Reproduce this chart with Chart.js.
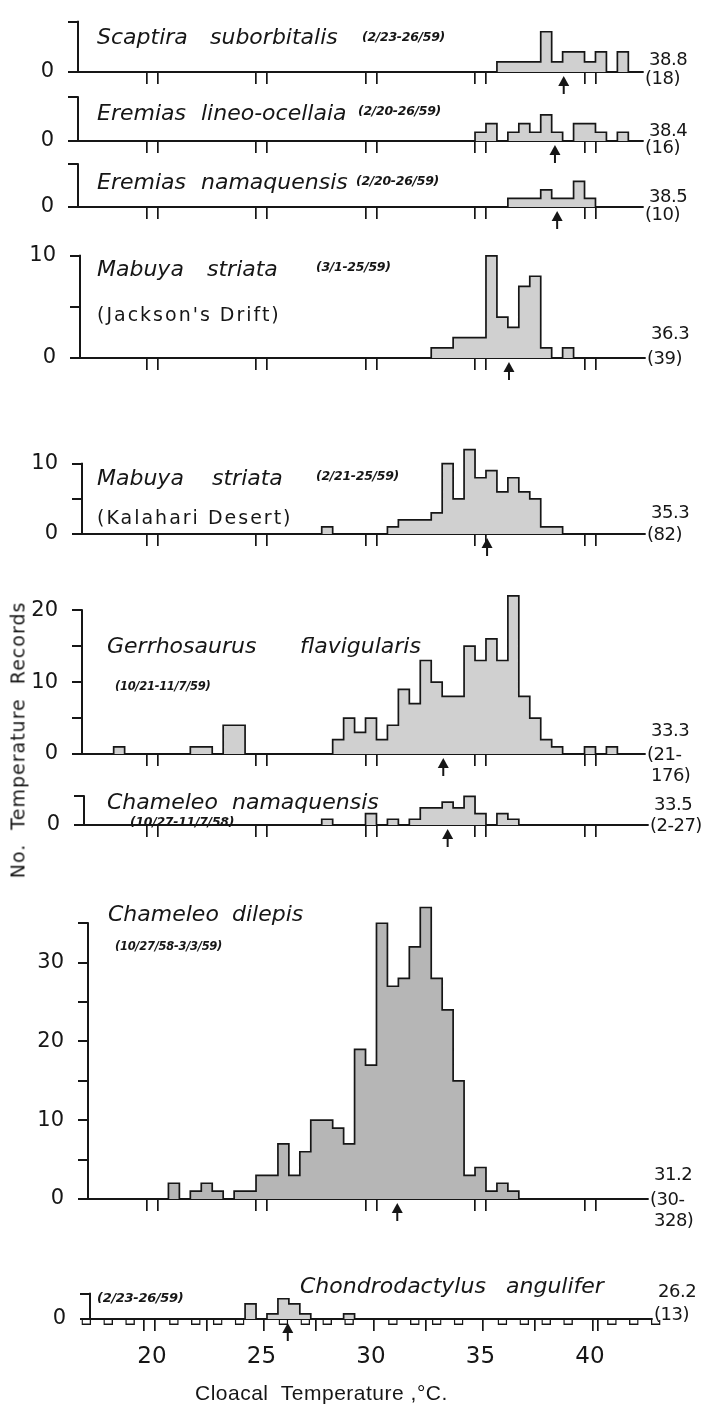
<!DOCTYPE html>
<html><head><meta charset="utf-8">
<script src="https://cdn.jsdelivr.net/npm/chart.js@4.4.1/dist/chart.umd.min.js"></script>
<style>
html,body{margin:0;padding:0;background:#fff;}
body{width:711px;height:1406px;position:relative;overflow:hidden;font-family:"DejaVu Sans",sans-serif;color:#161616;}
canvas{position:absolute;left:0;}
.t{position:absolute;white-space:pre;line-height:1;z-index:5;transform:translateY(-50%);}
.sp{font-style:italic;font-size:22px;}
.dt{font-style:italic;font-size:12.5px;font-weight:bold;letter-spacing:-0.3px;}
.sub{font-size:19px;letter-spacing:2px;}
.rl{font-size:18px;letter-spacing:-0.5px;}
</style></head><body>
<script>
// ---------------- DATA ----------------
const binWidth = 0.5;                       // deg C per histogram bin
const tickCenters = [20, 25, 30, 35, 40];   // x tick labels
const scaptiraStart = 36.0;
const scaptiraCounts = [1,1,1,1,4,1,2,2,1,2,0,2];
const lineoStart = 35.0;
const lineoCounts = [1,2,0,1,2,1,3,1,0,2,2,1,0,1];
const eremNamaStart = 36.5;
const eremNamaCounts = [1,1,1,2,1,1,3,1];
const mabuyaJDStart = 33.0;
const mabuyaJDCounts = [1,1,2,2,2,10,4,3,7,8,1,0,1];
const mabuyaKDStart = 28.0;
const mabuyaKDCounts = [1,0,0,0,0,0,1,2,2,2,3,10,5,12,8,9,6,8,6,5,1,1];
const gerrhoStart = 18.5;
const gerrhoCounts = [1,0,0,0,0,0,0,1,1,0,4,4,0,0,0,0,0,0,0,0,2,5,3,5,2,4,9,7,13,10,8,8,15,13,16,13,22,8,5,2,1,0,0,1,0,1];
const chamNamaStart = 28.0;
const chamNamaCounts = [1,0,0,0,2,0,1,0,1,3,3,4,3,5,2,0,2,1];
const dilepisStart = 21.0;
const dilepisCounts = [2,0,1,2,1,0,1,1,3,3,7,3,6,10,10,9,7,19,17,35,27,28,32,37,28,24,15,3,4,1,2,1];
const chondroStart = 24.5;
const chondroCounts = [3,0,1,4,3,1,0,0,0,1];
const chondroEmptyBins = [17,18,19,21,22,23,24,26,27,28,29,31,32,33,34,36,37,38,39,41,42,43];
const panelMeans = [38.8, 38.4, 38.5, 36.3, 35.3, 33.3, 33.5, 31.2, 26.2];
const panelSizes = [['(18)'],['(16)'],['(10)'],['(39)'],['(82)'],['(21-','176)'],['(2-27)'],['(30-','328)'],['(13)']];
const yTickSets = [[0,5],[0,5],[0,5],[0,5,10],[0,5,10],[0,5,10,15,20],[0,5],[0,5,10,15,20,25,30,35],[0,5]];
const yLabelSets = [[0],[0],[0],[0,10],[0,10],[0,10,20],[0],[0,10,20,30],[0]];

// ---------------- LAYOUT ----------------
const X20 = 152, X40 = 590;
const PX = (X40 - X20) / 20;
const INK = '#161616';
const layout = [
  {axisX:78, rightX:643, top:11,   base:72,   meanY:59,   nY:78},
  {axisX:78, rightX:643, top:87,   base:141,  meanY:130,  nY:147},
  {axisX:78, rightX:643, top:154,  base:207,  meanY:196,  nY:214},
  {axisX:80, rightX:645, top:244,  base:358,  meanY:333,  nY:358},
  {axisX:82, rightX:645, top:454,  base:534,  meanY:512,  nY:534},
  {axisX:82, rightX:645, top:599,  base:754,  meanY:730,  nY:754},
  {axisX:84, rightX:648, top:786,  base:825,  meanY:804,  nY:825},
  {axisX:88, rightX:648, top:912,  base:1199, meanY:1174, nY:1199},
  {axisX:90, rightX:652, top:1283, base:1319, meanY:1291, nY:1314}
];

function histPoints(start, counts) {
  const e0 = start - binWidth / 2;
  const pts = [{x: e0, y: 0}];
  counts.forEach((c, i) => pts.push({x: e0 + i * binWidth, y: c}));
  pts.push({x: e0 + counts.length * binWidth, y: 0});
  return pts;
}
const xTickValues = tickCenters.flatMap(t => [t - 0.25, t, t + 0.25]);
const isCenter = v => tickCenters.includes(v);

const decorPlugin = {
  id: 'decor',
  afterDraw(chart, args, opts) {
    const ctx = chart.ctx, xs = chart.scales.x, ys = chart.scales.y;
    const y0 = ys.getPixelForValue(0);
    const left = chart.chartArea.left;
    ctx.save();
    ctx.strokeStyle = INK; ctx.fillStyle = INK; ctx.lineWidth = 2;
    ctx.beginPath(); ctx.moveTo(left, y0 + 1); ctx.lineTo(left, ys.getPixelForValue(opts.bracket) - 1); ctx.stroke();
    const ax = xs.getPixelForValue(opts.mean);
    ctx.beginPath(); ctx.moveTo(ax, y0 + 11); ctx.lineTo(ax, y0 + 22); ctx.stroke();
    ctx.beginPath(); ctx.moveTo(ax, y0 + 4); ctx.lineTo(ax - 5.5, y0 + 14); ctx.lineTo(ax + 5.5, y0 + 14); ctx.closePath(); ctx.fill();
    ctx.restore();
  }
};

function makePanel(i, start, counts, fillColor, extra) {
  const L = layout[i];
  const ticksY = yTickSets[i];
  const bracket = ticksY[ticksY.length - 1];
  const peak = Math.max(...counts);
  const yMax = Math.max(bracket, peak) + 1;
  const unitPx = (L.base - L.top) / bracket;
  const padTop = 14;
  const xAxisH = (i === 8) ? 64 : 30;
  const canvasTop = Math.round(L.base - yMax * unitPx - padTop);
  const h = L.base - canvasTop + xAxisH;
  const cv = document.createElement('canvas');
  cv.style.top = canvasTop + 'px';
  cv.width = 711; cv.height = h;
  cv.style.width = '711px'; cv.style.height = h + 'px';
  document.body.appendChild(cv);
  const datasets = [{
    type: 'line', data: histPoints(start, counts), stepped: 'before', fill: 'origin',
    backgroundColor: fillColor, borderColor: INK, borderWidth: 1.7, pointRadius: 0,
    tension: 0, clip: false, order: 0, borderJoinStyle: 'miter'
  }];
  if (extra) datasets.push(extra);
  new Chart(cv, {
    type: 'line',
    data: {datasets},
    options: {
      responsive: false, animation: false, events: [],
      layout: {padding: {left: 0, right: 711 - L.rightX, top: padTop, bottom: 0}},
      plugins: {legend: {display: false}, tooltip: {enabled: false}, decor: {mean: panelMeans[i], bracket}},
      scales: {
        x: {
          type: 'linear', offset: false,
          min: 20 + (L.axisX - X20) / PX, max: 20 + (L.rightX - X20) / PX,
          afterBuildTicks: s => { s.ticks = xTickValues.map(v => ({value: v})); },
          afterFit: s => { s.height = xAxisH; },
          grid: {drawOnChartArea: false, drawTicks: true, tickLength: 12, lineWidth: 1.7,
                 color: c => (c.tick && isCenter(c.tick.value)) ? 'rgba(0,0,0,0)' : INK},
          border: {display: true, color: INK, width: 2},
          ticks: {autoSkip: false, maxRotation: 0, padding: 12, color: INK,
                  font: {family: 'DejaVu Sans', size: 23},
                  callback: v => (i === 8 && isCenter(v)) ? String(v) : ''}
        },
        y: {
          type: 'linear', min: 0, max: yMax,
          afterBuildTicks: s => { s.ticks = ticksY.map(v => ({value: v})); },
          afterFit: s => { s.width = L.axisX; },
          grid: {drawOnChartArea: false, drawTicks: true, tickLength: 10, lineWidth: 2, color: INK},
          border: {display: false},
          ticks: {autoSkip: false, padding: 14, color: INK, font: {family: 'DejaVu Sans', size: 21},
                  callback: v => yLabelSets[i].includes(v) ? String(v) : ''}
        }
      }
    },
    plugins: [decorPlugin]
  });
  // right-hand labels: mean and sample size
  const m = document.createElement('div');
  m.className = 't rl'; m.style.left = (L.rightX + 6) + 'px'; m.style.top = L.meanY + 'px';
  m.textContent = panelMeans[i].toFixed(1);
  document.body.appendChild(m);
  panelSizes[i].forEach((s, k) => {
    const d = document.createElement('div');
    d.className = 't rl'; d.style.left = (L.rightX + (k === 0 ? 2 : 6)) + 'px';
    d.style.top = (L.nY + k * 21) + 'px';
    d.textContent = s;
    document.body.appendChild(d);
  });
}

const FILL = '#d0d0d0';
makePanel(0, scaptiraStart, scaptiraCounts, FILL);
makePanel(1, lineoStart, lineoCounts, FILL);
makePanel(2, eremNamaStart, eremNamaCounts, FILL);
makePanel(3, mabuyaJDStart, mabuyaJDCounts, FILL);
makePanel(4, mabuyaKDStart, mabuyaKDCounts, FILL);
makePanel(5, gerrhoStart, gerrhoCounts, FILL);
makePanel(6, chamNamaStart, chamNamaCounts, FILL);
makePanel(7, dilepisStart, dilepisCounts, '#b6b6b6');
makePanel(8, chondroStart, chondroCounts, FILL, {
  type: 'bar', data: chondroEmptyBins.map(t => ({x: t, y: -1.1})),
  backgroundColor: '#ffffff', borderColor: INK, borderWidth: 1.4, barThickness: 9,
  clip: false, order: 1
});
</script>

<div class="t sp" style="left:97px;top:37px">Scaptira</div>
<div class="t sp" style="left:210px;top:37px">suborbitalis</div>
<div class="t dt" style="left:362px;top:37px">(2/23-26/59)</div>
<div class="t sp" style="left:97px;top:113px">Eremias</div>
<div class="t sp" style="left:201px;top:113px">lineo-ocellaia</div>
<div class="t dt" style="left:358px;top:111px">(2/20-26/59)</div>
<div class="t sp" style="left:97px;top:182px">Eremias</div>
<div class="t sp" style="left:201px;top:182px">namaquensis</div>
<div class="t dt" style="left:356px;top:181px">(2/20-26/59)</div>

<div class="t sp" style="left:97px;top:269px">Mabuya</div>
<div class="t sp" style="left:207px;top:269px">striata</div>
<div class="t dt" style="left:316px;top:267px">(3/1-25/59)</div>
<div class="t sub" style="left:97px;top:314px">(Jackson's Drift)</div>

<div class="t sp" style="left:97px;top:478px">Mabuya</div>
<div class="t sp" style="left:212px;top:478px">striata</div>
<div class="t dt" style="left:316px;top:476px">(2/21-25/59)</div>
<div class="t sub" style="left:97px;top:517px">(Kalahari Desert)</div>

<div class="t sp" style="left:107px;top:646px">Gerrhosaurus</div>
<div class="t sp" style="left:300px;top:646px">flavigularis</div>
<div class="t dt" style="left:115px;top:687px;font-size:11.5px">(10/21-11/7/59)</div>

<div class="t sp" style="left:107px;top:802px">Chameleo</div>
<div class="t sp" style="left:232px;top:802px">namaquensis</div>
<div class="t dt" style="left:130px;top:822px">(10/27-11/7/58)</div>

<div class="t sp" style="left:108px;top:914px">Chameleo</div>
<div class="t sp" style="left:232px;top:914px">dilepis</div>
<div class="t dt" style="left:115px;top:947px;font-size:11.5px">(10/27/58-3/3/59)</div>

<div class="t dt" style="left:97px;top:1297px;font-size:13px">(2/23-26/59)</div>
<div class="t sp" style="left:300px;top:1286px">Chondrodactylus</div>
<div class="t sp" style="left:506px;top:1286px">angulifer</div>

<div class="t" style="left:18px;top:740px;font-size:19px;letter-spacing:1px;transform:translate(-50%,-50%) rotate(-90deg);">No.  Temperature  Records</div>
<div class="t" style="left:195px;top:1392px;font-size:21px;font-family:'Liberation Sans',sans-serif;letter-spacing:0.5px;">Cloacal  Temperature ,°C.</div>
</body></html>
